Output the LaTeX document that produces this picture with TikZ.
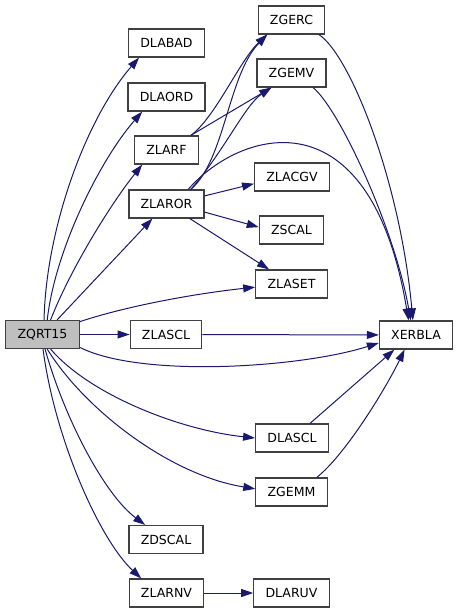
\documentclass[tikz,border=0pt]{standalone}
\usepackage{fontspec}
\newfontfamily\dxfont{DejaVu Sans}
\usetikzlibrary{arrows.meta}
\definecolor{edgeblue}{HTML}{191970}
\definecolor{boxgray}{HTML}{404040}
\definecolor{rootfill}{HTML}{BFBFBF}

\begin{document}
\begin{tikzpicture}[x=0.75pt,y=0.75pt,yscale=-1,xscale=1,
  fn/.style={draw=boxgray,line width=0.9pt,fill=white,minimum height=21pt,
    inner xsep=8.8pt,inner ysep=0pt,font=\dxfont\fontsize{9.4}{11}\selectfont},
  root/.style={fn,fill=rootfill},
  call/.style={draw=edgeblue,line width=0.75pt,
    -{Triangle[length=9pt,width=6pt]}}]
 \useasboundingbox (0,0) rectangle (459,613);

 \node[root] (zqrt15) at (42.5,334.5) {ZQRT15};
 \node[fn] (dlabad) at (166.5,43) {DLABAD};
 \node[fn] (dlaord) at (166.5,97) {DLAORD};
 \node[fn] (zlarf) at (166.5,150) {ZLARF};
 \node[fn] (zlaror) at (166.5,204) {ZLAROR};
 \node[fn] (zlascl) at (166,334.5) {ZLASCL};
 \node[fn] (zdscal) at (166,539.5) {ZDSCAL};
 \node[fn] (zlarnv) at (166.5,593) {ZLARNV};
 \node[fn] (zgerc) at (291.5,20) {ZGERC};
 \node[fn] (zgemv) at (291.5,73) {ZGEMV};
 \node[fn] (zlacgv) at (292,177) {ZLACGV};
 \node[fn] (zscal) at (291.5,230) {ZSCAL};
 \node[fn] (zlaset) at (291.5,284) {ZLASET};
 \node[fn] (dlascl) at (292,438) {DLASCL};
 \node[fn] (zgemm) at (291.5,492) {ZGEMM};
 \node[fn] (dlaruv) at (291.5,593) {DLARUV};
 \node[fn] (xerbla) at (416,335) {XERBLA};

 % calls from ZQRT15
 \draw[call] (zqrt15.84) .. controls (46,230) and (85,120) .. (dlabad.-152);
 \draw[call] (zqrt15.72) .. controls (55,250) and (100,160) .. (dlaord.-149);
 \draw[call] (zqrt15.61) .. controls (70,270) and (110,205) .. (zlarf.-149);
 \draw[call] (zqrt15.45) -- (zlaror.-134);
 \draw[call] (zqrt15.19) .. controls (130,305) and (200,293) .. (zlaset.-175);
 \draw[call] (zqrt15) -- (zlascl);
 \draw[call] (zqrt15.-19) .. controls (140,378) and (300,368) .. (xerbla.-168);
 \draw[call] (zqrt15.-61) .. controls (90,395) and (180,430) .. (dlascl.west);
 \draw[call] (zqrt15.-72) .. controls (85,410) and (170,475) .. (zgemm.175);
 \draw[call] (zqrt15.-80) .. controls (65,420) and (105,495) .. (zdscal.145);
 \draw[call] (zqrt15.-88) .. controls (55,440) and (100,540) .. (zlarnv.150);

 % ZLARF and ZLAROR
 \draw[call] (zlarf.31) .. controls (215,118) and (240,60) .. (zgerc.-149);
 \draw[call] (zlarf.31) -- (zgemv.-144);
 \draw[call] (zlaror.31) .. controls (225,160) and (228,75) .. (zgerc.-149);
 \draw[call] (zlaror.31) .. controls (225,150) and (245,105) .. (zgemv.-144);
 \draw[call] (zlaror.34) .. controls (240,130) and (370,90) .. (xerbla.117);
 \draw[call] (zlaror.12) -- (zlacgv.-170);
 \draw[call] (zlaror.-12) -- (zscal.175);
 \draw[call] (zlaror.-32) -- (zlaset.147);

 % into XERBLA
 \draw[call] (zgerc.-28) .. controls (350,55) and (400,180) .. (xerbla.102);
 \draw[call] (zgemv.-34) .. controls (340,110) and (395,230) .. (xerbla.110);
 \draw[call] (zlascl) -- (xerbla);
 \draw[call] (dlascl.39) -- (xerbla.-146);
 \draw[call] (zgemm.30) .. controls (345,455) and (385,390) .. (xerbla.-128);

 \draw[call] (zlarnv) -- (dlaruv);
\end{tikzpicture}
\end{document}
